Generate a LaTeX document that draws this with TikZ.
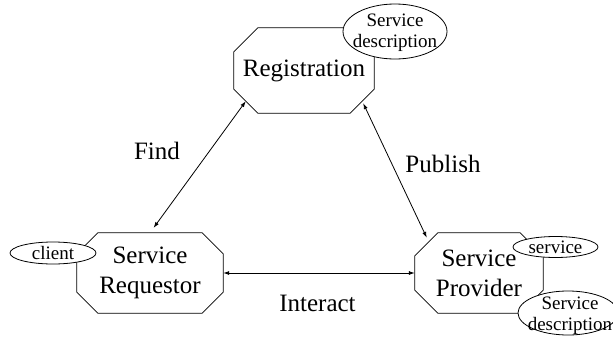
\documentclass[tikz,border=0pt]{standalone}
\usepackage{fontspec}
\setmainfont{Liberation Serif}
\usetikzlibrary{arrows.meta}

\begin{document}
\begin{tikzpicture}[x=1pt,y=-1pt]
  \tikzset{box/.style = {inner sep=0pt,align=center,font=\fontsize{25}{30}\selectfont}}
  \tikzset{tag/.style = {draw,fill=white,line width=0.8pt}}
  \tikzset{small/.style = {align=center,inner sep=0pt,font=\fontsize{19}{21}\selectfont}}
  \tikzset{word/.style = {anchor=base,inner sep=0pt,font=\fontsize{25}{30}\selectfont}}
  \tikzset{link/.style = {<->,>={Latex[length=6pt,width=4pt]},line width=0.8pt}}

  \useasboundingbox (0,0) rectangle (613,343);

	\node[box,minimum width=140pt,minimum height=85pt] (reg) at (304,70.5) {Registration};
	\node[box,minimum width=146pt,minimum height=80pt] (req) at (150,273) {Service\\Requestor};
	\node[box,minimum width=128pt,minimum height=80pt] (prov) at (479,273) {Service\\Provider};

	% cut the corners off each box
	\foreach \n/\c in {reg/24,req/21,prov/23}
	  \draw[line width=0.8pt] ([xshift=\c pt]\n.north west) -- ([xshift=-\c pt]\n.north east)
	    -- ([yshift=-\c pt]\n.north east) -- ([yshift=\c pt]\n.south east)
	    -- ([xshift=-\c pt]\n.south east) -- ([xshift=\c pt]\n.south west)
	    -- ([yshift=\c pt]\n.south west) -- ([yshift=-\c pt]\n.north west) -- cycle;

	% little bubbles sitting on the corners
	\path[tag] (395,31.5) ellipse [x radius=52,y radius=27.5];
	\node[small] (regdesc) at (395,33) {Service\\description};
	\path[tag] (53,253) ellipse [x radius=43,y radius=11];
	\node[small] (client) at (53,253) {client};
	\path[tag] (555.5,247) ellipse [x radius=42.5,y radius=10.5];
	\node[small] (service) at (555.5,247) {service};
	\path[tag] (568,313) ellipse [x radius=50,y radius=22];
	\node[small] (provdesc) at (570,316) {Service\\description};

	\draw[link,shorten <=6pt] (req.north) -- ([shift={(12,-12)}]reg.south west);
	\draw[link] ([shift={(-11,-10)}]reg.south east) -- ([shift={(12,5)}]prov.north west);
	\draw[link] (req.east) -- (prov.west);

	\node[word] (find) at (157,159) {Find};
	\node[word] (publish) at (443,172) {Publish};
	\node[word] (interact) at (317.5,311) {Interact};

\end{tikzpicture}
\end{document}
